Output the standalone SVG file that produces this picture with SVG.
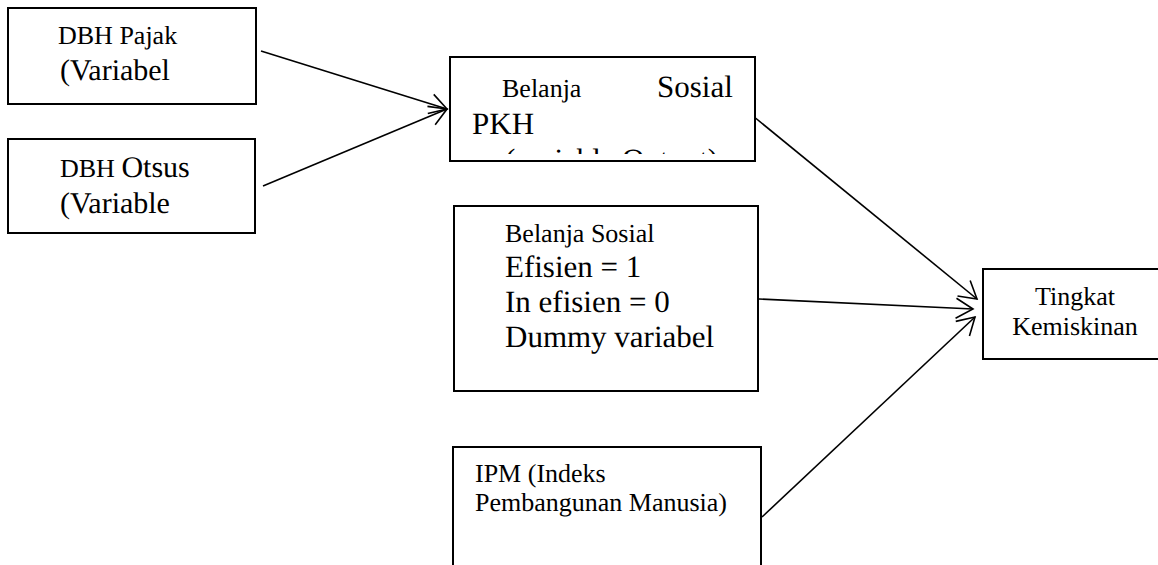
<svg xmlns="http://www.w3.org/2000/svg" width="1158" height="565" viewBox="0 0 1158 565">
<style>
.box{fill:#fff;stroke:#000;stroke-width:2}
.t{font-family:"Liberation Serif","Times New Roman",serif;fill:#000;text-rendering:geometricPrecision}
.s{font-size:26px}
.b{font-size:31px}
.m{font-size:30px}
.c{stroke:#000;stroke-width:1.6;fill:none}
</style>
<defs>
<marker id="arr" markerUnits="userSpaceOnUse" markerWidth="40" markerHeight="40" refX="0" refY="0" orient="auto" overflow="visible" viewBox="-30 -20 40 40">
<path d="M-17,-10 L0,0 L-17,10" fill="none" stroke="#000" stroke-width="1.6"/>
</marker>
<clipPath id="pkhclip"><rect x="450" y="57" width="305" height="97"/></clipPath>
</defs>
<rect width="1158" height="565" fill="#fff"/>
<g id="connectors">
<line class="c" x1="261" y1="51" x2="447" y2="109" marker-end="url(#arr)"/>
<line class="c" x1="263" y1="186" x2="447" y2="109" marker-end="url(#arr)"/>
<line class="c" x1="753" y1="116" x2="977" y2="299" marker-end="url(#arr)"/>
<line class="c" x1="759" y1="299" x2="973" y2="309" marker-end="url(#arr)"/>
<line class="c" x1="762" y1="517" x2="975" y2="317" marker-end="url(#arr)"/>
</g>
<g id="node-dbh-pajak">
<rect class="box" x="8" y="8" width="248" height="96"/>
<text class="t s" x="58" y="44">DBH Pajak</text>
<text class="t m" x="60" y="80">(Variabel</text>
</g>
<g id="node-dbh-otsus">
<rect class="box" x="8" y="139" width="247" height="94"/>
<text class="t" x="60" y="177"><tspan class="s">DBH </tspan><tspan class="m">Otsus</tspan></text>
<text class="t m" x="60" y="213">(Variable</text>
</g>
<g id="node-pkh">
<rect class="box" x="450" y="57" width="305" height="104"/>
<text class="t s" x="502" y="97">Belanja</text>
<text class="t b" x="657" y="97">Sosial</text>
<text class="t b" x="472" y="134">PKH</text>
<g clip-path="url(#pkhclip)">
<text class="t b" x="505" y="170" textLength="213">(variable Output)</text>
</g>
</g>
<g id="node-efisien">
<rect class="box" x="454" y="206" width="304" height="185"/>
<text class="t s" x="505" y="242">Belanja Sosial</text>
<text class="t b" x="505" y="277">Efisien = 1</text>
<text class="t b" x="505" y="312">In efisien = 0</text>
<text class="t b" x="505" y="347">Dummy variabel</text>
</g>
<g id="node-ipm">
<rect class="box" x="453" y="447" width="308" height="130"/>
<text class="t s" x="475" y="482">IPM (Indeks</text>
<text class="t s" x="475" y="511">Pembangunan Manusia)</text>
</g>
<g id="node-tingkat">
<rect class="box" x="983" y="269" width="185" height="90"/>
<text class="t s" x="1075" y="305" text-anchor="middle">Tingkat</text>
<text class="t s" x="1075" y="335" text-anchor="middle">Kemiskinan</text>
</g>
</svg>
